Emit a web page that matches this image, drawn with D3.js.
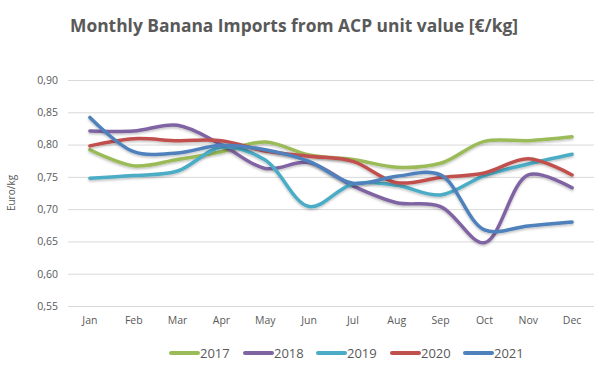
<!DOCTYPE html>
<html><head><meta charset="utf-8">
<script src="https://cdn.jsdelivr.net/npm/d3@7"></script>
<style>body{margin:0;background:#fff}svg{display:block}</style>
</head><body>
<svg id="c" width="600" height="371"></svg>
<script>
const months = ["Jan","Feb","Mar","Apr","May","Jun","Jul","Aug","Sep","Oct","Nov","Dec"];
const years = ["2017","2018","2019","2020","2021"];
const v2017 = [0.792,0.767,0.777,0.789,0.804,0.784,0.777,0.765,0.771,0.805,0.806,0.812];
const v2018 = [0.821,0.821,0.830,0.800,0.763,0.772,0.736,0.710,0.704,0.648,0.753,0.733];
const v2019 = [0.748,0.752,0.759,0.796,0.776,0.704,0.739,0.737,0.722,0.752,0.770,0.785];
const v2020 = [0.798,0.809,0.806,0.806,0.790,0.782,0.774,0.741,0.749,0.756,0.778,0.753];
const v2021 = [0.842,0.789,0.787,0.799,0.792,0.774,0.740,0.751,0.753,0.668,0.674,0.680];
const yTicks = [0.55,0.60,0.65,0.70,0.75,0.80,0.85,0.90];
const colors = ["#9BBB59","#8064A2","#4BACC6","#C0504D","#4F81BD"];
const series = [v2017,v2018,v2019,v2020,v2021];

const svg = d3.select("#c");
const font = "'Open Sans', sans-serif";
const x = d3.scaleBand().domain(months).range([68,594]);
const y = d3.scaleLinear().domain([0.55,0.90]).range([306,80]);

svg.append("text").attr("x",70).attr("y",32).attr("font-family",font)
  .attr("font-weight","bold").attr("font-size",17.4).attr("fill","#595959")
  .text("Monthly Banana Imports from ACP unit value [€/kg]");

const fmt = d => d3.format(".2f")(d).replace(".",",");
const ga = svg.append("g").attr("transform","translate(68,0)")
  .call(d3.axisLeft(y).tickValues(yTicks).tickFormat(fmt).tickSize(-526).tickPadding(10));
ga.select(".domain").remove();
ga.selectAll(".tick line").attr("stroke","#d9d9d9");
ga.selectAll(".tick text").attr("font-family",font).attr("font-size",10.5).attr("fill","#595959");

const xa = svg.append("g").attr("transform","translate(0,306)")
  .call(d3.axisBottom(x).tickSize(0).tickPadding(11));
xa.select(".domain").remove();
xa.selectAll(".tick text").attr("font-family",font).attr("font-size",10.5).attr("fill","#595959");

svg.append("text").attr("transform","translate(15,193) rotate(-90)").attr("text-anchor","middle")
  .attr("font-family",font).attr("font-size",10).attr("fill","#595959").text("Euro/kg");

const defs = svg.append("defs");
const f = defs.append("filter").attr("id","sh").attr("x","-10%").attr("y","-10%").attr("width","120%").attr("height","130%");
f.append("feDropShadow").attr("dx",0).attr("dy",1.5).attr("stdDeviation",1.2).attr("flood-color","#000").attr("flood-opacity",0.25);

const line = d3.line().x((d,i)=>x(months[i])+x.bandwidth()/2).y(d=>y(d)).curve(d3.curveCatmullRom.alpha(0.5));
series.forEach((s,k)=>{
  svg.append("path").datum(s).attr("d",line).attr("fill","none").attr("stroke",colors[k])
    .attr("stroke-width",3.5).attr("stroke-linecap","round").attr("filter","url(#sh)");
});

const lx = [171,245,318,392,465];
years.forEach((yr,k)=>{
  const g = svg.append("g").attr("transform",`translate(${lx[k]},353)`);
  g.append("line").attr("x1",0).attr("x2",27).attr("stroke",colors[k]).attr("stroke-width",4).attr("stroke-linecap","round");
  g.append("text").attr("x",29).attr("y",5).attr("font-family",font).attr("font-size",13).attr("fill","#595959").text(yr);
});
</script>
</body></html>
